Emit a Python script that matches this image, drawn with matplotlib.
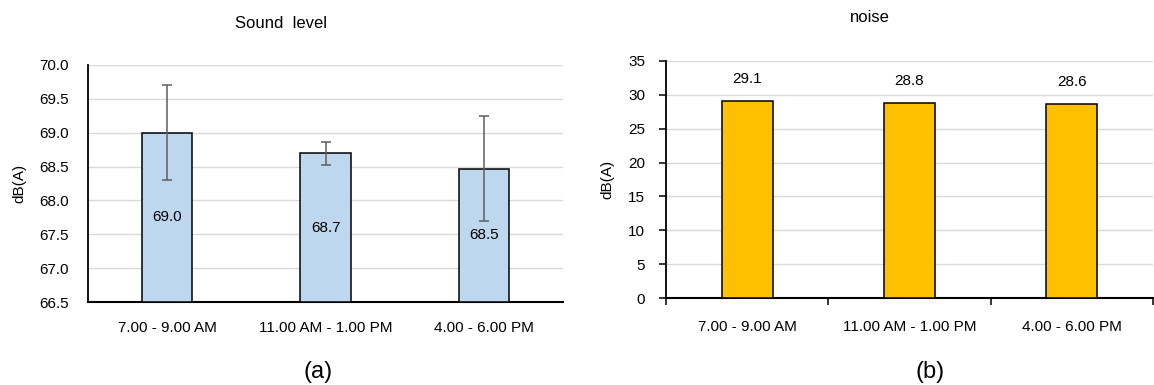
import numpy as np
import matplotlib.pyplot as plt

plt.rcParams['font.family'] = ['Liberation Sans', 'DejaVu Sans']

# data
periods = ['7.00 - 9.00 AM', '11.00 AM - 1.00 PM', '4.00 - 6.00 PM']
sound_mean = [69.0, 68.7, 68.47]
sound_err = [0.70, 0.17, 0.77]
noise_mean = [29.1, 28.8, 28.6]

W, H = 1154, 385
fig = plt.figure(figsize=(W / 100, H / 100), dpi=100)

def px_axes(x0, x1, ytop, ybot):
    return fig.add_axes([x0 / W, (H - ybot) / H, (x1 - x0) / W, (ybot - ytop) / H])

x = np.arange(len(periods))
grid_c = '#d9d9d9'

# (a) sound level
ax1 = px_axes(88, 563, 65, 302)
ax1.bar(x, np.array(sound_mean) - 66.5, bottom=66.5, width=0.316,
        color='#bdd7ee', edgecolor='black', linewidth=1.1, zorder=3)
ax1.errorbar(x, sound_mean, yerr=sound_err, fmt='none', ecolor='#5f5f5f',
             elinewidth=1.1, capsize=3.5, capthick=1.1, zorder=4)
for xi, v in zip(x, sound_mean):
    ax1.text(xi, (66.5 + v) / 2, f'{v:.1f}', ha='center', va='center', fontsize=11, zorder=5)
ax1.set_ylim(66.5, 70.0)
ax1.set_xlim(-0.5, 2.5)
yt = np.arange(66.5, 70.01, 0.5)
ax1.set_yticks(yt)
ax1.set_yticklabels([f'{t:.1f}' for t in yt])
ax1.set_xticks(x)
ax1.set_xticklabels(periods)
ax1.tick_params(axis='y', length=0, pad=14, labelsize=11)
ax1.tick_params(axis='x', length=0, pad=14, labelsize=11)
ax1.grid(axis='y', color=grid_c, linewidth=1, zorder=0)
for s in ['top', 'right']:
    ax1.spines[s].set_visible(False)
ax1.spines['left'].set_linewidth(1.3)
ax1.spines['bottom'].set_linewidth(1.5)
ax1.set_ylabel('dB(A)', fontsize=11, labelpad=9)
fig.text(281 / W, 1 - 23 / H, 'Sound  level', ha='center', va='center', fontsize=12)
fig.text(318 / W, 1 - 372 / H, '(a)', ha='center', va='center', fontsize=17)

# (b) noise
ax2 = px_axes(666, 1153, 61, 298)
ax2.bar(x, noise_mean, width=0.315, color='#ffc000', edgecolor='black',
        linewidth=1.1, zorder=3)
for xi, v in zip(x, noise_mean):
    ax2.annotate(f'{v:.1f}', (xi, v), xytext=(0, 11), textcoords='offset points',
                 ha='center', va='bottom', fontsize=11)
ax2.set_ylim(0, 35)
ax2.set_xlim(-0.5, 2.5)
ax2.set_yticks(np.arange(0, 36, 5))
ax2.set_xticks(x)
ax2.set_xticklabels(periods)
ax2.set_xticks([-0.5, 0.5, 1.5, 2.5], minor=True)
ax2.tick_params(axis='x', which='major', length=0, pad=16, labelsize=11)
ax2.tick_params(axis='x', which='minor', length=5, width=1.1, color='black')
ax2.tick_params(axis='y', length=5, width=1.1, pad=10, labelsize=11)
ax2.grid(axis='y', color=grid_c, linewidth=1, zorder=0)
for s in ['top', 'right']:
    ax2.spines[s].set_visible(False)
ax2.spines['left'].set_linewidth(1.3)
ax2.spines['bottom'].set_linewidth(1.5)
ax2.set_ylabel('dB(A)', fontsize=11, labelpad=10)
fig.text(870 / W, 1 - 18 / H, 'noise', ha='center', va='center', fontsize=12)
fig.text(930 / W, 1 - 372 / H, '(b)', ha='center', va='center', fontsize=17)

fig.savefig('out.png', dpi=100)
